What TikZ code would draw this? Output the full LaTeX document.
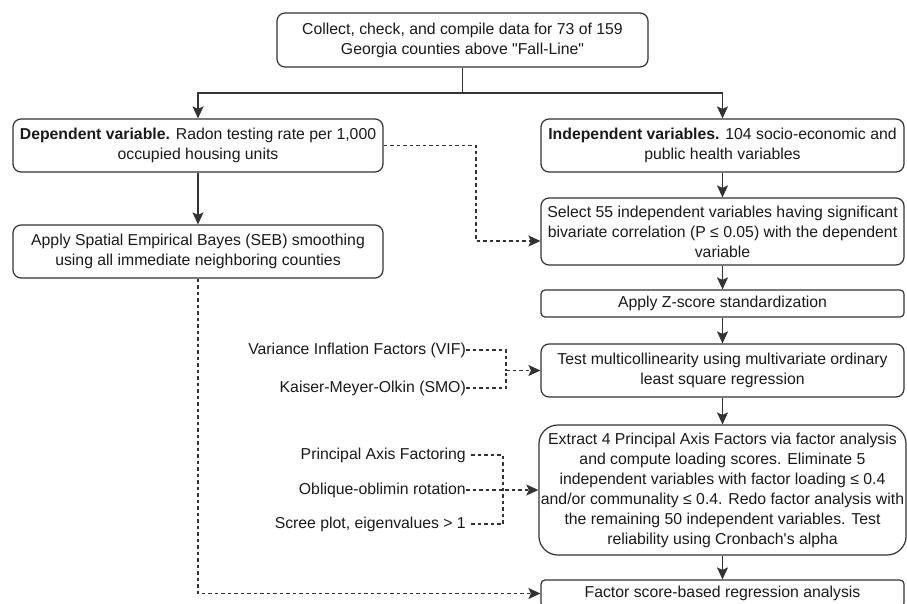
\documentclass[tikz,border=0pt]{standalone}
\usepackage{fontspec}
\setmainfont{Liberation Sans}
\usetikzlibrary{arrows.meta}
\definecolor{lc}{HTML}{333333}
\definecolor{tc}{HTML}{1A1A1A}
\newcommand\figfont{\fontsize{15.8}{20}\selectfont}
\begin{document}
\begin{tikzpicture}[x=1pt,y=-1pt,
  box/.style={draw=lc, line width=1.2pt, align=center, inner sep=2pt, text=tc, font=\figfont, rounded corners=8pt},
  lab/.style={anchor=east, inner sep=0pt, text=tc, font=\figfont},
  ln/.style={draw=lc, line width=1.2pt},
  dsh/.style={draw=lc, line width=1.15pt, dash pattern=on 3.5pt off 3pt},
  arr/.style={-{Stealth[length=12pt,width=11pt,inset=2.5pt,fill=lc]}}]
\useasboundingbox (0,0) rectangle (907,604);
\clip (0,0) rectangle (907,604);
% boxes
\node[box, minimum width=371pt, minimum height=54pt] (top) at (462.5,40) {Collect, check, and compile data for 73 of 159\\Georgia counties above \textquotedbl Fall-Line\textquotedbl};
\node[box, minimum width=370pt, minimum height=53pt] (dep) at (198,145.5) {\textbf{Dependent variable.} Radon testing rate per 1,000\\occupied housing units};
\node[box, minimum width=370pt, minimum height=53pt] (seb) at (198,251.5) {Apply Spatial Empirical Bayes (SEB) smoothing\\using all immediate neighboring counties};
\node[box, minimum width=363pt, minimum height=53pt] (ind) at (722.5,145.5) {\textbf{Independent variables.} 104 socio-economic and\\public health variables};
\node[box, minimum width=363pt, minimum height=67pt] (sel) at (722.5,231.5) {Select 55 independent variables having significant\\bivariate correlation (P ≤ 0.05) with the dependent\\variable};
\node[box, minimum width=363pt, minimum height=27pt, rounded corners=4pt] (zs) at (722.5,303.5) {Apply Z-score standardization};
\node[box, minimum width=363pt, minimum height=53pt] (test) at (722.5,370.5) {Test multicollinearity using multivariate ordinary\\least square regression};
\node[box, minimum width=363pt, minimum height=130pt, rounded corners=19pt] (ext) at (722.5,490) {Extract 4 Principal Axis Factors via factor analysis\\and compute loading scores. Eliminate 5\\independent variables with factor loading ≤ 0.4\\and/or communality ≤ 0.4. Redo factor analysis with\\the remaining 50 independent variables. Test\\reliability using Cronbach\textquotesingle s alpha};
\node[box, minimum width=363pt, minimum height=27pt, rounded corners=4pt] (fin) at (722.5,593.5) {Factor score-based regression analysis};
% side labels
\node[lab] (vif) at (466,350) {Variance Inflation Factors (VIF)};
\node[lab] (kmo) at (466,388) {Kaiser-Meyer-Olkin (SMO)};
\node[lab] (pa) at (466,455) {Principal Axis Factoring};
\node[lab] (obl) at (466,490) {Oblique-oblimin rotation};
\node[lab] (scr) at (466,524) {Scree plot, eigenvalues > 1};
% solid connectors
\coordinate (j0) at (462.5,93);
\draw[ln] (top.south) -- (j0);
\draw[ln,arr] (j0) -| (dep.north);
\draw[ln,arr] (j0) -| (ind.north);
\draw[ln,arr] (dep) -- (seb);
\draw[ln,arr] (ind) -- (sel);
\draw[ln,arr] (sel) -- (zs);
\draw[ln,arr] (zs) -- (test);
\draw[ln,arr] (test) -- (ext);
\draw[ln,arr] (ext) -- (fin);
% dashed connectors
\coordinate (d1) at (476,241);
\draw[dsh,arr] (dep.east) -| (d1) -- (sel.west |- d1);
\draw[dsh,arr] (seb.south) |- (fin.west);
\coordinate (c1) at (506,370.5);
\draw[dsh] (vif.east) -| (c1);
\draw[dsh] (kmo.east) -| (c1);
\draw[dsh,arr] (c1) -- (test.west);
\coordinate (c2) at (503,490);
\draw[dsh,shorten <=5pt] (pa.east) -| (c2);
\draw[dsh,shorten <=5pt] (scr.east) -| (c2);
\draw[dsh,arr] (obl.east) -- (ext.west);
\end{tikzpicture}
\end{document}
